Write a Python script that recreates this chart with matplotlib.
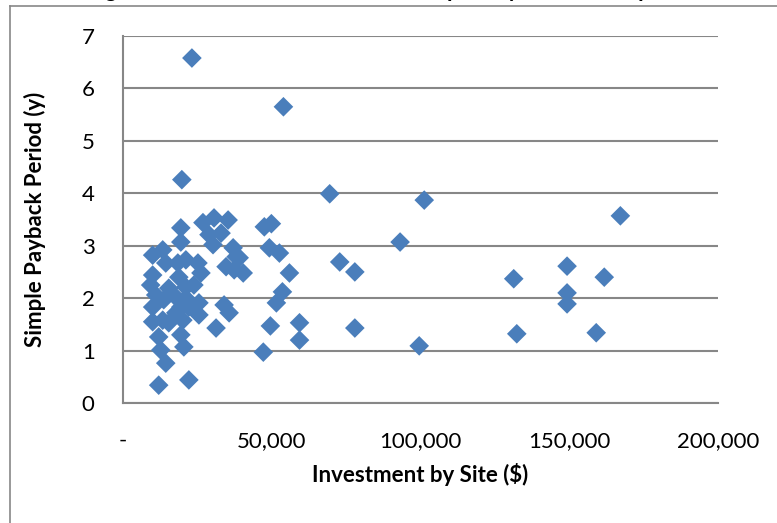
"""Scatter of site investment against simple payback period."""

import matplotlib
matplotlib.use("Agg")
import matplotlib.pyplot as plt
from matplotlib.ticker import FuncFormatter, MultipleLocator

# Investment per site ($) and simple payback (years), one entry per site.
investment = [
    19930, 19590, 19590, 27020, 30740, 35470, 29050, 33100, 30400, 37160,
    38170, 34790, 37500, 39180, 40540, 10130, 13510, 10130, 14530, 18580,
    21280, 25340, 26350, 23980, 18920, 21280, 15540, 9460, 11150, 10130,
    13850, 17900, 21280, 25670, 25670, 10130, 13510, 15540, 20270, 17900,
    34120, 35810, 31420, 12160, 12840, 19590, 20610, 14530, 12160, 22290,
    22290, 19590, 47630, 50000, 49320, 52700, 56070, 53710, 51680, 49660,
    59450, 59450, 78030, 47290, 99650, 69590, 101340, 93230, 72960, 78030,
    23310, 54050, 167210, 149310, 131400, 161800, 149310, 149310, 132420, 159100,
]
payback = [
    4.26, 3.34, 3.07, 3.44, 3.53, 3.49, 3.21, 3.24, 3.02, 2.96,
    2.79, 2.60, 2.54, 2.77, 2.48, 2.82, 2.92, 2.44, 2.67, 2.67,
    2.73, 2.67, 2.48, 2.25, 2.40, 2.21, 2.19, 2.25, 2.06, 1.83,
    1.97, 2.02, 2.00, 1.91, 1.68, 1.55, 1.58, 1.53, 1.58, 1.72,
    1.87, 1.72, 1.43, 1.26, 1.01, 1.30, 1.07, 0.76, 0.34, 0.44,
    1.83, 1.83, 3.36, 3.42, 2.96, 2.86, 2.48, 2.12, 1.91, 1.47,
    1.53, 1.20, 1.43, 0.97, 1.09, 3.99, 3.87, 3.07, 2.69, 2.50,
    6.58, 5.65, 3.57, 2.61, 2.37, 2.40, 2.10, 1.89, 1.32, 1.34,
]

TITLE = "Figure 5. Site Investment versus Simple Payback at Sample Sites"
X_LABEL = "Investment by Site ($)"
Y_LABEL = "Simple Payback Period (y)"

MARKER_COLOR = "#4a7ebb"
GRID_COLOR = "#878787"
FONT = ["Lato", "DejaVu Sans"]

plt.rcParams["font.family"] = FONT

fig = plt.figure(figsize=(7.77, 5.23), dpi=100)

# chart frame (only left and top edges fall inside the picture)
fig.add_artist(plt.Line2D([10 / 777, 10 / 777], [0, 1 - 6 / 523],
                          transform=fig.transFigure, color=GRID_COLOR, lw=1.2))
fig.add_artist(plt.Line2D([10 / 777, 1], [1 - 6 / 523, 1 - 6 / 523],
                          transform=fig.transFigure, color=GRID_COLOR, lw=1.2))

# caption above the chart, almost entirely outside the canvas
fig.text(0.52, 1 + 3 / 523, TITLE, ha="center", va="baseline",
         fontsize=16, fontweight="bold", color="black")

ax = fig.add_axes([122.5 / 777, 120 / 523, (718 - 122.5) / 777, 367 / 523])
ax.scatter(investment, payback, marker="D", s=100, color=MARKER_COLOR,
           edgecolors="none", zorder=3)

ax.set_xlim(0, 200000)
ax.set_ylim(0, 7)
ax.xaxis.set_major_locator(MultipleLocator(50000))
ax.yaxis.set_major_locator(MultipleLocator(1))
ax.xaxis.set_major_formatter(FuncFormatter(lambda v, _: "-" if v == 0 else f"{v:,.0f}"))
ax.yaxis.set_major_formatter(FuncFormatter(lambda v, _: f"{v:.0f}"))

ax.grid(axis="y", color=GRID_COLOR, lw=1.5, zorder=0)
ax.set_axisbelow(True)
for side in ("top", "right"):
    ax.spines[side].set_visible(False)
for side in ("left", "bottom"):
    ax.spines[side].set_color(GRID_COLOR)
    ax.spines[side].set_linewidth(1.5)

ax.tick_params(axis="both", length=0, labelsize=16, colors="black")
ax.tick_params(axis="x", pad=20)
ax.tick_params(axis="y", pad=20)

ax.set_xlabel(X_LABEL, fontsize=16, fontweight="bold", labelpad=9)
ax.set_ylabel(Y_LABEL, fontsize=16, fontweight="bold", labelpad=26)

fig.savefig("out.png", dpi=100)
